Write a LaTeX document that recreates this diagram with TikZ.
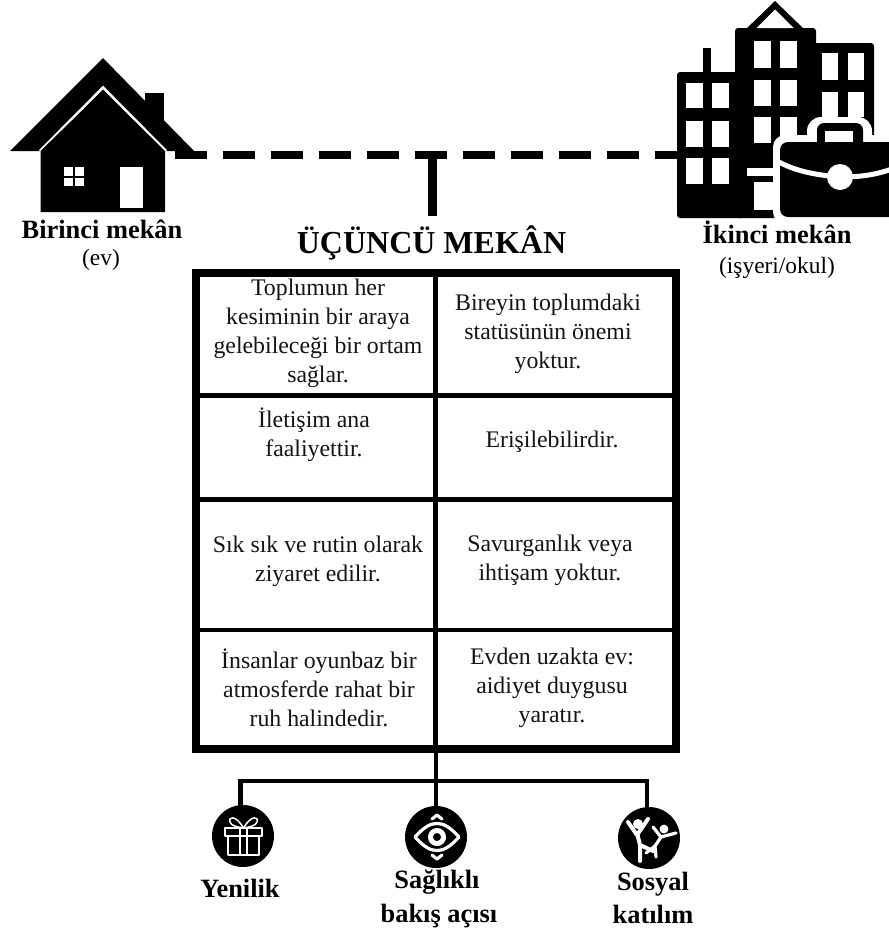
\documentclass[tikz,border=0pt]{standalone}
\usepackage{fontspec}
\setmainfont{Liberation Serif}
\begin{document}
\begin{tikzpicture}[x=1pt,y=-1pt,
  celltext/.style={align=center,inner sep=0pt,text=black!92,font=\fontsize{23.8}{29}\selectfont},
  cellbg/.style={fill=white,draw=none},
  headlabel/.style={align=center,inner sep=0pt,anchor=base,font=\fontsize{26.4}{29}\selectfont\bfseries},
  sublabel/.style={align=center,inner sep=0pt,anchor=base,font=\fontsize{23.4}{26}\selectfont},
  conn/.style={draw=black,line width=4.6pt},
  stem/.style={draw=black,line width=9pt},
  dashline/.style={draw=black,line width=8pt,dash pattern=on 32pt off 16pt},
  badge/.style={circle,fill=black,draw=none,minimum size=62pt,inner sep=0pt},
  whiteline/.style={draw=white,line width=1.5pt,line join=round},
  whitebold/.style={draw=white,line width=3.2pt,line join=round,line cap=round},
  limb/.style={draw=white,line width=4pt,line cap=round,line join=round}]
\useasboundingbox (0,0) rectangle (889,930);
\fill[white] (0,0) rectangle (889,930);

% ---- house
\fill[black] (145,93) rectangle (164,125);
\fill[black] (103,58) -- (194,151) -- (10,151) -- cycle;
\draw[white,line width=2.6pt,line join=miter] (40,151) -- (103,87.5) -- (166,151);
\fill[black] (40.5,151) -- (103,90) -- (165,151) -- (165,212) -- (40.5,212) -- cycle;
\fill[white] (64,167) rectangle (84,186);
\draw[black,line width=2pt] (74,167) -- (74,186) (64,176.5) -- (84,176.5);
\fill[white] (120,167) rectangle (143,208);

% ---- building
\fill[black,rounded corners=3pt] (677,72) rectangle (745,218);
\fill[black] (703,48) rectangle (711,75);
\fill[black,rounded corners=3pt] (735,28) rectangle (816,218);
\fill[black,rounded corners=3pt] (790,43) rectangle (874,190);
\fill[black,line join=round] (775,1) -- (805,30) -- (745,30) -- cycle;
\fill[white] (775,9.5) -- (793.5,28) -- (756.5,28) -- cycle;
\foreach \wx in {686,712}\foreach \wy/\wh in {83/25,121/26,158/26}
  \fill[white] (\wx,\wy) rectangle +(17,\wh);
\foreach \wx in {754,780}\foreach \wy/\wh in {41/27,80/26,117/26}
  \fill[white] (\wx,\wy) rectangle +(17,\wh);
\foreach \wx in {822,848}\foreach \wy/\wh in {53/27,92/25}
  \fill[white] (\wx,\wy) rectangle +(16,\wh);
\fill[white] (747,168) rectangle (778,176);
\fill[white] (754,182) rectangle (778,210);
% briefcase
\fill[white,rounded corners=14pt] (807,117) rectangle (872,160);
\fill[white,rounded corners=12pt] (773,135) rectangle (900,224);
\fill[black,rounded corners=7pt] (817,123) rectangle (863,150);
\fill[white] (825,131) rectangle (853,145);
\fill[black,rounded corners=8pt] (780,142) rectangle (900,217);
\draw[white,line width=5pt] (777,161) .. controls (795,171) and (815,175) .. (840,177) .. controls (860,177) and (875,175) .. (892,169);
\fill[white] (840,177) circle[radius=13];

% ---- dashed link and stem
\coordinate (evUcu) at (175,155);
\coordinate (isUcu) at (677,155);
\coordinate (kavsak) at (432.5,151);
\coordinate (stemSon) at (432.5,216);
\draw[dashline] (evUcu) -- (isUcu);
\draw[stem] (kavsak) -- (stemSon);

% ---- labels top
\node[headlabel] (birinci) at (102,238) {Birinci mekân};
\node[sublabel] (ev) at (101,265) {(ev)};
\node[headlabel] (ikinci) at (777,243) {İkinci mekân};
\node[sublabel] (isyeri) at (777,273) {(işyeri/okul)};
\node[inner sep=0pt,anchor=base,font=\fontsize{32}{36}\selectfont\bfseries] (baslik) at (431.5,253) {ÜÇÜNCÜ MEKÂN};

% ---- table
\node[fill=black,draw=none,inner sep=0pt,minimum width=488pt,minimum height=484pt] (tablo) at (436,511) {};
\fill[cellbg] (200,277) rectangle (433,393);
\fill[cellbg] (438,277) rectangle (672,393);
\fill[cellbg] (200,398) rectangle (433,497);
\fill[cellbg] (438,398) rectangle (672,497);
\fill[cellbg] (200,502) rectangle (433,628);
\fill[cellbg] (438,502) rectangle (672,628);
\fill[cellbg] (200,632) rectangle (433,745);
\fill[cellbg] (438,632) rectangle (672,745);

\node[celltext] (a1) at (318,332.7) {\strut Toplumun her\\kesiminin bir araya\\gelebileceği bir ortam\\sağlar.\strut};
\node[celltext] (b1) at (548,333.7) {\strut Bireyin toplumdaki\\statüsünün önemi\\yoktur.\strut};
\node[celltext] (a2) at (314,436.2) {\strut İletişim ana\\faaliyettir.\strut};
\node[celltext] (b2) at (552,441.2) {\strut Erişilebilirdir.\strut};
\node[celltext] (a3) at (318,560.7) {\strut Sık sık ve rutin olarak\\ziyaret edilir.\strut};
\node[celltext] (b3) at (550,559.7) {\strut Savurganlık veya\\ihtişam yoktur.\strut};
\node[celltext] (a4) at (319,691.7) {\strut İnsanlar oyunbaz bir\\atmosferde rahat bir\\ruh halindedir.\strut};
\node[celltext] (b4) at (552,687.2) {\strut Evden uzakta ev:\\aidiyet duygusu\\yaratır.\strut};

% ---- badges
\node[badge] (yenilikI) at (243,836) {};
\node[badge] (bakisI) at (436,837) {};
\node[badge] (sosyalI) at (649,838) {};
\coordinate (bus) at (435.5,781);
\coordinate (busL) at (240.7,806);
\coordinate (busR) at (647,808);
\draw[conn] (tablo.south) -- (bakisI.north);
\draw[conn,line join=miter] (busL) |- (bus) -| (busR);

% gift
\draw[whiteline] (225,828) rectangle (262,836);
\draw[whiteline] (228,836) rectangle (259,855);
\draw[whiteline] (240,828) -- (240,855) (247,828) -- (247,855);
\draw[whiteline] (243.5,828) .. controls (236,815) and (228,816) .. (230,822) .. controls (231,826) and (238,827) .. (243.5,828);
\draw[whiteline] (243.5,828) .. controls (251,815) and (259,816) .. (257,822) .. controls (256,826) and (249,827) .. (243.5,828);

% eye
\draw[whitebold] (415,837) .. controls (425,826) and (431,823.5) .. (437,823.5) .. controls (443,823.5) and (449,826) .. (459,837) .. controls (449,848) and (443,850.5) .. (437,850.5) .. controls (431,850.5) and (425,848) .. (415,837) -- cycle;
\draw[white,line width=5pt] (437,837) circle[radius=6.5];
\draw[whitebold] (432,819) -- (437,815) -- (442,819);
\draw[whitebold] (432,855) -- (437,859) -- (442,855);

% dancers
\fill[white] (638,824) circle[radius=5];
\draw[limb] (628,822) -- (637,835) -- (648,819);
\draw[limb] (637,833) -- (640,845) -- (640,861);
\draw[limb] (640,845) -- (653,851);
\fill[white] (664,829) circle[radius=4.4];
\draw[limb,line width=3.2pt] (653,827) -- (661,837) -- (676,833);
\draw[limb,line width=3.2pt] (661,837) -- (655,846) -- (646,853);
\draw[limb,line width=3.2pt] (655,846) -- (656,857);

% ---- bottom labels
\node[headlabel] (yenilik) at (240,897) {Yenilik};
\node[headlabel] (saglikli) at (437,888) {Sağlıklı};
\node[headlabel] (bakis) at (439,922) {bakış açısı};
\node[headlabel] (sosyal) at (653,890) {Sosyal};
\node[headlabel] (katilim) at (653,923) {katılım};
\end{tikzpicture}
\end{document}
